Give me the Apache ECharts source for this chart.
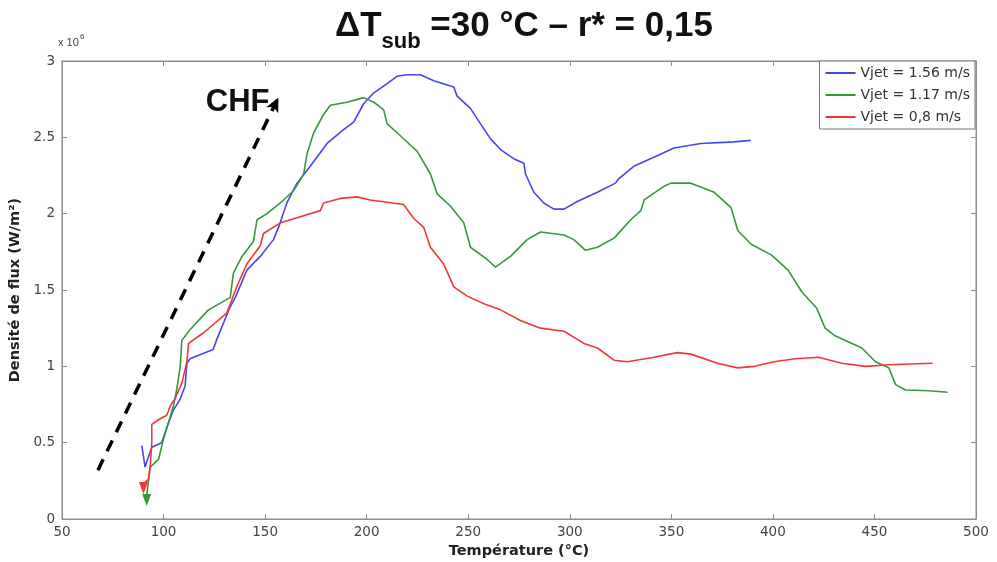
<!DOCTYPE html>
<html><head><meta charset="utf-8">
<script src="https://cdn.jsdelivr.net/npm/echarts@6/dist/echarts.min.js"></script>
<style>html,body{margin:0;padding:0;background:#fff}#c{width:997px;height:562px}</style>
</head><body><div id="c"></div>
<script>
// Température (°C) and flux density (×10^6 W/m²)
var tempBlue = [89.3,90.9,94.2,99.1,101.6,104.7,108,110.6,111.5,113,124.4,126.3,132.8,135.3,141,147.6,154.1,156.6,160.7,165.7,172.2,180.5,188.6,193.6,198.5,203.4,209.9,214.9,219.9,226.5,233,242.9,244.5,251.1,256,261,265.9,272.4,277.4,278.2,282.3,287.2,292.2,297.1,303.7,313.6,322.5,324.2,331.5,341.4,351.3,364.5,380.9,389.1];
var fluxBlue = [0.48,0.34,0.47,0.50,0.60,0.71,0.78,0.87,1.02,1.05,1.11,1.18,1.39,1.45,1.63,1.72,1.83,1.91,2.07,2.20,2.31,2.46,2.55,2.60,2.72,2.79,2.85,2.90,2.91,2.91,2.87,2.83,2.77,2.69,2.59,2.49,2.42,2.36,2.33,2.26,2.14,2.07,2.03,2.03,2.08,2.14,2.20,2.23,2.31,2.37,2.43,2.46,2.47,2.48];
var tempGreen = [91.7,93.4,97.5,99.9,102.4,104.9,106.5,108.2,109,113,122.1,132.8,134.4,138.6,144.3,146,150.9,157.5,164,169,170.6,173.9,178.8,182.1,190.3,198.5,203.5,208.4,210,215,221.5,224.8,231.4,234.7,241.2,247.8,251.1,259.3,263.4,270.8,279,285.6,297.1,302,307.8,313.6,321.8,330,335,336.6,346.5,349.8,359.6,371.1,379.4,382.7,389.3,399.2,407.5,414.1,421.6,425.7,430.6,443.8,450.5,457.1,460.4,465.3,476.8,486];
var fluxGreen = [0.15,0.34,0.39,0.52,0.63,0.74,0.85,1.00,1.17,1.24,1.37,1.45,1.61,1.72,1.82,1.96,2.00,2.07,2.15,2.26,2.39,2.53,2.65,2.71,2.73,2.76,2.73,2.68,2.59,2.53,2.45,2.41,2.26,2.13,2.05,1.94,1.78,1.70,1.65,1.72,1.83,1.88,1.86,1.83,1.76,1.78,1.84,1.96,2.02,2.09,2.18,2.20,2.20,2.14,2.04,1.89,1.80,1.73,1.63,1.49,1.38,1.25,1.20,1.12,1.03,0.99,0.88,0.845,0.84,0.83];
var tempRed = [90.1,92.5,93.4,94.2,94.2,97.5,101.6,103.3,105.7,109,111.5,112.3,119.7,131.2,136,141,147.6,149.2,157.5,167.3,177.2,178.8,187,195.3,201.8,218.2,223.1,228.1,231.4,237.9,242.9,249.5,257.7,265.9,275.7,285.6,297.1,307,313.6,321.8,328.4,341.4,352.9,359.6,372.7,382.7,390.9,400.6,410.9,422.4,434,445.6,457.1,478.6];
var fluxRed = [0.23,0.26,0.34,0.50,0.62,0.65,0.68,0.74,0.79,0.89,1.03,1.15,1.22,1.35,1.52,1.67,1.79,1.87,1.94,1.98,2.02,2.07,2.10,2.11,2.09,2.06,1.97,1.91,1.78,1.67,1.52,1.46,1.41,1.37,1.30,1.25,1.23,1.15,1.12,1.04,1.03,1.06,1.09,1.08,1.02,0.99,1.00,1.03,1.05,1.06,1.02,1.00,1.01,1.02];
var seriesNames = ['Vjet = 1.56 m/s','Vjet = 1.17 m/s','Vjet = 0,8 m/s'];
var xTicks = [50,100,150,200,250,300,350,400,450,500];
var yTicks = [0,0.5,1,1.5,2,2.5,3];
var chfArrow = [[67.7,0.32],[156.5,2.76]];
var chfLabelPos = [136.5,2.73];

function zip(a,b){return a.map(function(v,i){return [v,b[i]];});}
var FONT = 'Liberation Sans';
var WIDE = 'DejaVu Sans';
var cBlue='#4545f5', cGreen='#35993a', cRed='#f53535';

var chart = echarts.init(document.getElementById('c'));
var axisCommon = {
  axisLine:{show:true,onZero:false,lineStyle:{color:'#8c8c8c',width:1}},
  axisTick:{show:true,inside:true,length:5,lineStyle:{color:'#8c8c8c'}},
  splitLine:{show:false}
};
function mk(name,color,x,y,startMarker){
  var s = {name:name,type:'line',data:zip(x,y),showSymbol:false,symbol:'none',
    lineStyle:{color:color,width:1.6},itemStyle:{color:color},z:3,animation:false};
  if(startMarker){
    s.markPoint={symbol:'triangle',symbolSize:[9,12],symbolRotate:180,symbolOffset:[0,4],
      itemStyle:{color:color},label:{show:false},data:[{coord:zip(x,y)[0]}],animation:false};
  }
  return s;
}
var option = {
  animation:false,
  backgroundColor:'#fff',
  title:{text:'{d|ΔT}{s|sub}{d| =30 °C – r* = 0,15}',left:330,top:4,
    textStyle:{rich:{d:{fontFamily:FONT,fontWeight:'bold',fontSize:35,color:'#111',verticalAlign:'bottom'},
      s:{fontFamily:FONT,fontWeight:'bold',fontSize:22,color:'#111',verticalAlign:'bottom',padding:[0,0,-9,0]}}}},
  grid:{left:62,right:21,top:61,bottom:43,show:true,borderColor:'#8c8c8c',borderWidth:1,backgroundColor:'#fff',
    containLabel:false,outerBoundsMode:'none'},
  legend:{data:seriesNames,orient:'vertical',right:22,top:61,itemWidth:30,itemHeight:2,itemGap:8,
    icon:'rect',borderColor:'#777',borderWidth:1,padding:[5,5,5,6],backgroundColor:'#fff',
    textStyle:{fontFamily:WIDE,fontSize:14,color:'#333'}},
  xAxis:[Object.assign({type:'value',min:50,max:500,interval:50,name:'Température (°C)',nameLocation:'middle',nameGap:24,
      nameTextStyle:{fontFamily:WIDE,fontWeight:'bold',fontSize:14.5,color:'#222'},
      axisLabel:{fontFamily:WIDE,fontSize:13.5,color:'#444',margin:6,formatter:function(v){return xTicks.indexOf(v)>=0?String(v):'';}}},axisCommon),
    Object.assign({type:'value',position:'top',min:50,max:500,interval:50,axisLabel:{show:false}},axisCommon)],
  yAxis:[Object.assign({type:'value',min:0,max:3,interval:0.5,name:'Densité de flux (W/m²)',nameLocation:'middle',nameGap:39,
      nameTextStyle:{fontFamily:WIDE,fontWeight:'bold',fontSize:14.5,color:'#222'},
      axisLabel:{fontFamily:WIDE,fontSize:13.5,color:'#444',margin:7,formatter:function(v){return yTicks.indexOf(v)>=0?String(v):'';}}},axisCommon),
    Object.assign({type:'value',position:'right',min:0,max:3,interval:0.5,axisLabel:{show:false}},axisCommon)],
  graphic:[{type:'text',left:58,top:37,style:{text:'x 10',fontFamily:FONT,fontSize:11,fill:'#444'}},
           {type:'text',left:80,top:33,style:{text:'6',fontFamily:FONT,fontSize:8,fill:'#444'}}],
  series:[
    mk(seriesNames[0],cBlue,tempBlue,fluxBlue,false),
    mk(seriesNames[1],cGreen,tempGreen,fluxGreen,true),
    mk(seriesNames[2],cRed,tempRed,fluxRed,true),
    {name:'CHF',type:'line',data:[],z:2,
      markLine:{silent:true,symbol:['none','arrow'],symbolSize:[10,14],animation:false,
        lineStyle:{color:'#000',type:[12,9],width:3.5},label:{show:false},
        data:[[{coord:chfArrow[0]},{coord:chfArrow[1]}]]},
      markPoint:{symbol:'rect',symbolSize:1,itemStyle:{color:'rgba(0,0,0,0)'},animation:false,
        label:{show:true,formatter:'CHF',fontFamily:FONT,fontWeight:'bold',fontSize:31,color:'#111',position:'inside'},
        data:[{coord:chfLabelPos}]}}
  ]
};
chart.setOption(option);
</script></body></html>
